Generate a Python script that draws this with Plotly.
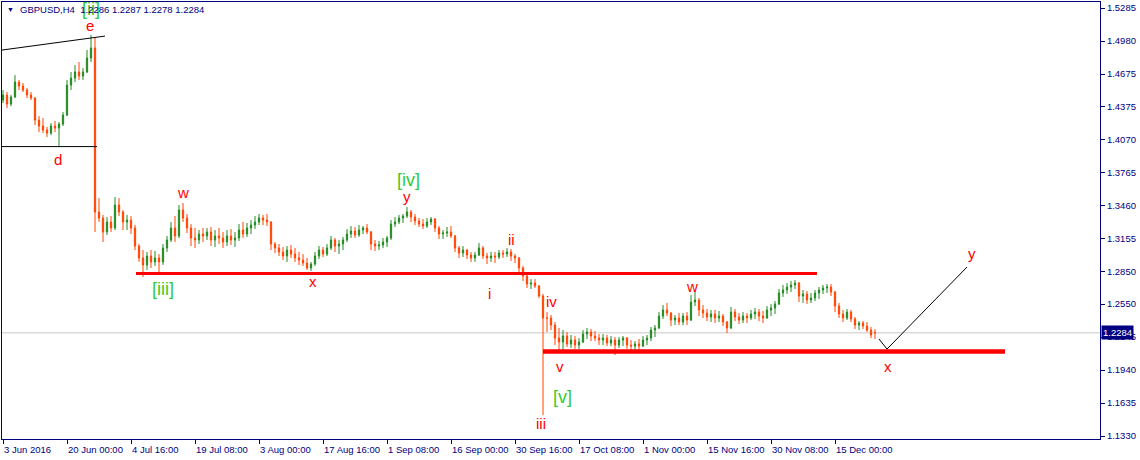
import plotly.graph_objects as go

# GBPUSD H4, one drawn candle = 4 H4 bars
opens = [
    1.4435, 1.4481, 1.4398, 1.4463, 1.4601, 1.4564, 1.4527, 1.4481, 1.4454, 1.4250, 1.4195, 1.4158,
    1.4130, 1.4195, 1.4176, 1.4213, 1.4296, 1.4573, 1.4638, 1.4694, 1.4657, 1.4694, 1.4823, 1.4916,
    1.3400, 1.3345, 1.3216, 1.3308, 1.3253, 1.3465, 1.3400, 1.3308, 1.3326, 1.3253, 1.3086, 1.2976,
    1.2911, 1.2994, 1.2939, 1.2976, 1.2939, 1.3068, 1.3142, 1.3253, 1.3179, 1.3419, 1.3345, 1.3253,
    1.3160, 1.3142, 1.3197, 1.3179, 1.3216, 1.3142, 1.3179, 1.3160, 1.3123, 1.3179, 1.3142, 1.3160,
    1.3234, 1.3197, 1.3253, 1.3280, 1.3308, 1.3345, 1.3326, 1.3308, 1.3105, 1.3068, 1.3031, 1.2994,
    1.3049,
    1.3012, 1.2976, 1.2957, 1.2929, 1.2883, 1.2920, 1.2994, 1.3049, 1.3012, 1.3068,
    1.3142, 1.3086, 1.3105, 1.3142, 1.3197, 1.3225, 1.3188, 1.3234, 1.3253, 1.3216,
    1.3105, 1.3086, 1.3096, 1.3123, 1.3160, 1.3289, 1.3308, 1.3345, 1.3363, 1.3400,
    1.3354, 1.3317, 1.3289, 1.3271, 1.3308, 1.3336, 1.3253, 1.3197, 1.3206, 1.3216,
    1.3179, 1.3068, 1.3022, 1.3049, 1.3003, 1.2976, 1.3003, 1.3068, 1.2994, 1.2976,
    1.2994, 1.2985, 1.3022, 1.3012, 1.3031, 1.2994, 1.2976, 1.2883, 1.2809, 1.2735,
    1.2744, 1.2717, 1.2624, 1.2421, 1.2421, 1.2356, 1.2236, 1.2199, 1.2255, 1.2181,
    1.2218, 1.2171, 1.2199, 1.2273, 1.2292, 1.2255, 1.2236, 1.2218, 1.2236, 1.2190,
    1.2218, 1.2171, 1.2218, 1.2236, 1.2171, 1.2162, 1.2181, 1.2162, 1.2218, 1.2236,
    1.2310, 1.2329, 1.2439, 1.2495, 1.2467, 1.2402, 1.2421, 1.2384, 1.2439, 1.2402,
    1.2569, 1.2587, 1.2495, 1.2467, 1.2430, 1.2458, 1.2421, 1.2439, 1.2384, 1.2329,
    1.2476, 1.2430, 1.2402, 1.2439, 1.2421, 1.2458, 1.2476, 1.2439, 1.2421, 1.2495,
    1.2513, 1.2550, 1.2652, 1.2680, 1.2707, 1.2726, 1.2744, 1.2624, 1.2643, 1.2587,
    1.2606, 1.2652, 1.2680, 1.2698, 1.2707, 1.2661, 1.2532, 1.2458, 1.2421, 1.2476,
    1.2412, 1.2356, 1.2375, 1.2347, 1.2310, 1.2286,
]
highs = [
    1.4527, 1.4509, 1.4481, 1.4666, 1.4620, 1.4592, 1.4546, 1.4509, 1.4463, 1.4287, 1.4269, 1.4186,
    1.4222, 1.4241, 1.4232, 1.4324, 1.4620, 1.4694, 1.4758, 1.4786, 1.4731, 1.4897, 1.5036, 1.5008,
    1.3529, 1.3373, 1.3354, 1.3363, 1.3539, 1.3529, 1.3419, 1.3373, 1.3363, 1.3280, 1.3105, 1.3049,
    1.3031, 1.3049, 1.3040, 1.3012, 1.3105, 1.3179, 1.3308, 1.3363, 1.3465, 1.3483, 1.3382, 1.3289,
    1.3253, 1.3234, 1.3253, 1.3253, 1.3262, 1.3234, 1.3253, 1.3216, 1.3234, 1.3243, 1.3216, 1.3289,
    1.3308, 1.3299, 1.3326, 1.3363, 1.3382, 1.3373, 1.3382, 1.3317, 1.3123, 1.3105, 1.3077, 1.3086,
    1.3096,
    1.3068, 1.3031, 1.3012, 1.2976, 1.2939, 1.3031, 1.3086, 1.3077, 1.3105, 1.3179,
    1.3160, 1.3142, 1.3170, 1.3243, 1.3271, 1.3262, 1.3280, 1.3271, 1.3289, 1.3225,
    1.3142, 1.3133, 1.3160, 1.3179, 1.3326, 1.3354, 1.3373, 1.3382, 1.3446, 1.3419,
    1.3382, 1.3345, 1.3336, 1.3345, 1.3354, 1.3345, 1.3271, 1.3234, 1.3262, 1.3271,
    1.3188, 1.3086, 1.3086, 1.3059, 1.3031, 1.3031, 1.3114, 1.3086, 1.3022, 1.3031,
    1.3031, 1.3049, 1.3049, 1.3068, 1.3059, 1.3012, 1.2985, 1.2902, 1.2818, 1.2781,
    1.2781, 1.2726, 1.2643, 1.2476, 1.2449, 1.2384, 1.2329, 1.2310, 1.2292, 1.2264,
    1.2255, 1.2236, 1.2310, 1.2329, 1.2319, 1.2301, 1.2273, 1.2273, 1.2264, 1.2255,
    1.2245, 1.2245, 1.2255, 1.2245, 1.2218, 1.2208, 1.2227, 1.2255, 1.2264, 1.2338,
    1.2356, 1.2476, 1.2541, 1.2560, 1.2476, 1.2449, 1.2467, 1.2467, 1.2476, 1.2633,
    1.2670, 1.2606, 1.2541, 1.2504, 1.2495, 1.2495, 1.2486, 1.2458, 1.2393, 1.2523,
    1.2504, 1.2467, 1.2476, 1.2467, 1.2495, 1.2513, 1.2504, 1.2486, 1.2532, 1.2550,
    1.2578, 1.2689, 1.2726, 1.2744, 1.2763, 1.2772, 1.2754, 1.2680, 1.2670, 1.2652,
    1.2680, 1.2707, 1.2726, 1.2735, 1.2735, 1.2670, 1.2560, 1.2495, 1.2504, 1.2495,
    1.2430, 1.2393, 1.2393, 1.2384, 1.2338, 1.2319,
]
lows = [
    1.4407, 1.4361, 1.4380, 1.4454, 1.4527, 1.4509, 1.4454, 1.4435, 1.4204, 1.4139, 1.4130, 1.4093,
    1.4111, 1.4139, 1.4010, 1.4195, 1.4287, 1.4527, 1.4601, 1.4620, 1.4620, 1.4685, 1.4786, 1.3216,
    1.3308, 1.3123, 1.3188, 1.3216, 1.3234, 1.3363, 1.3234, 1.3234, 1.3197, 1.3049, 1.2939, 1.2800,
    1.2865, 1.2883, 1.2902, 1.2846, 1.2911, 1.3031, 1.3123, 1.3123, 1.3160, 1.3308, 1.3206, 1.3086,
    1.3068, 1.3105, 1.3123, 1.3142, 1.3086, 1.3077, 1.3105, 1.3068, 1.3086, 1.3096, 1.3077, 1.3133,
    1.3160, 1.3170, 1.3197, 1.3243, 1.3280, 1.3280, 1.3271, 1.3049, 1.3022, 1.2994, 1.2957, 1.2939,
    1.2976,
    1.2939, 1.2911, 1.2902, 1.2865, 1.2855, 1.2902, 1.2966, 1.2985, 1.2994, 1.3049,
    1.3031, 1.3012, 1.3049, 1.3123, 1.3160, 1.3160, 1.3170, 1.3197, 1.3197, 1.3049,
    1.3040, 1.3049, 1.3068, 1.3077, 1.3142, 1.3262, 1.3289, 1.3299, 1.3345, 1.3308,
    1.3280, 1.3262, 1.3243, 1.3253, 1.3280, 1.3216, 1.3151, 1.3151, 1.3170, 1.3160,
    1.3031, 1.2976, 1.2985, 1.2966, 1.2939, 1.2939, 1.2994, 1.2966, 1.2920, 1.2939,
    1.2929, 1.2966, 1.2976, 1.2985, 1.2948, 1.2929, 1.2846, 1.2763, 1.2698, 1.2689,
    1.2698, 1.2606, 1.1524, 1.2292, 1.2310, 1.2171, 1.2098, 1.2125, 1.2153, 1.2144,
    1.2135, 1.2135, 1.2190, 1.2227, 1.2208, 1.2208, 1.2171, 1.2171, 1.2162, 1.2162,
    1.2079, 1.2144, 1.2162, 1.2135, 1.2116, 1.2116, 1.2107, 1.2153, 1.2171, 1.2208,
    1.2245, 1.2319, 1.2412, 1.2439, 1.2347, 1.2356, 1.2356, 1.2356, 1.2356, 1.2393,
    1.2532, 1.2439, 1.2421, 1.2393, 1.2384, 1.2375, 1.2384, 1.2347, 1.2282, 1.2319,
    1.2393, 1.2366, 1.2375, 1.2375, 1.2402, 1.2412, 1.2393, 1.2375, 1.2412, 1.2439,
    1.2458, 1.2541, 1.2615, 1.2643, 1.2661, 1.2689, 1.2569, 1.2560, 1.2550, 1.2560,
    1.2578, 1.2597, 1.2643, 1.2652, 1.2624, 1.2476, 1.2421, 1.2384, 1.2402, 1.2384,
    1.2319, 1.2310, 1.2319, 1.2292, 1.2236, 1.2227,
]
closes = [
    1.4481, 1.4398, 1.4463, 1.4601, 1.4564, 1.4527, 1.4481, 1.4454, 1.4250, 1.4195, 1.4158, 1.4130,
    1.4195, 1.4176, 1.4213, 1.4296, 1.4573, 1.4638, 1.4694, 1.4657, 1.4694, 1.4823, 1.4916, 1.3400,
    1.3345, 1.3216, 1.3308, 1.3253, 1.3465, 1.3400, 1.3308, 1.3326, 1.3253, 1.3086, 1.2976, 1.2911,
    1.2994, 1.2939, 1.2976, 1.2939, 1.3068, 1.3142, 1.3253, 1.3179, 1.3419, 1.3345, 1.3253, 1.3160,
    1.3142, 1.3197, 1.3179, 1.3216, 1.3142, 1.3179, 1.3160, 1.3123, 1.3179, 1.3142, 1.3160, 1.3234,
    1.3197, 1.3253, 1.3280, 1.3308, 1.3345, 1.3326, 1.3308, 1.3105, 1.3068, 1.3031, 1.2994, 1.3049,
    1.3012,
    1.2976, 1.2957, 1.2929, 1.2883, 1.2920, 1.2994, 1.3049, 1.3012, 1.3068, 1.3142,
    1.3086, 1.3105, 1.3142, 1.3197, 1.3225, 1.3188, 1.3234, 1.3253, 1.3216, 1.3105,
    1.3086, 1.3096, 1.3123, 1.3160, 1.3289, 1.3308, 1.3345, 1.3363, 1.3400, 1.3354,
    1.3317, 1.3289, 1.3271, 1.3308, 1.3336, 1.3253, 1.3197, 1.3206, 1.3216, 1.3179,
    1.3068, 1.3022, 1.3049, 1.3003, 1.2976, 1.3003, 1.3068, 1.2994, 1.2976, 1.2994,
    1.2985, 1.3022, 1.3012, 1.3031, 1.2994, 1.2976, 1.2883, 1.2809, 1.2735, 1.2744,
    1.2717, 1.2624, 1.2421, 1.2421, 1.2356, 1.2236, 1.2199, 1.2255, 1.2181, 1.2218,
    1.2171, 1.2199, 1.2273, 1.2292, 1.2255, 1.2236, 1.2218, 1.2236, 1.2190, 1.2218,
    1.2171, 1.2218, 1.2236, 1.2171, 1.2162, 1.2181, 1.2162, 1.2218, 1.2236, 1.2310,
    1.2329, 1.2439, 1.2495, 1.2467, 1.2402, 1.2421, 1.2384, 1.2439, 1.2402, 1.2569,
    1.2587, 1.2495, 1.2467, 1.2430, 1.2458, 1.2421, 1.2439, 1.2384, 1.2329, 1.2476,
    1.2430, 1.2402, 1.2439, 1.2421, 1.2458, 1.2476, 1.2439, 1.2421, 1.2495, 1.2513,
    1.2550, 1.2652, 1.2680, 1.2707, 1.2726, 1.2744, 1.2624, 1.2643, 1.2587, 1.2606,
    1.2652, 1.2680, 1.2698, 1.2707, 1.2661, 1.2532, 1.2458, 1.2421, 1.2476, 1.2412,
    1.2356, 1.2375, 1.2347, 1.2310, 1.2264, 1.2284,
]

date_labels = ["3 Jun 2016", "20 Jun 00:00", "4 Jul 16:00", "19 Jul 08:00", "3 Aug 00:00",
               "17 Aug 16:00", "1 Sep 08:00", "16 Sep 00:00", "30 Sep 16:00", "17 Oct 08:00",
               "1 Nov 00:00", "15 Nov 16:00", "30 Nov 08:00", "15 Dec 00:00"]
price_ticks = [1.5285, 1.4980, 1.4675, 1.4375, 1.4070, 1.3765, 1.3460, 1.3155,
               1.2850, 1.2550, 1.2245, 1.1940, 1.1635, 1.1330]
last_price = 1.2284

NAVY = "#000080"
GREEN_LBL = "#32CD32"
RED_LBL = "#FF0000"
FONT = "Liberation Sans, Arial, sans-serif"

step = 4  # H4 bars per candle
xs = [i * step for i in range(len(closes))]
tick_pos = [i * 64 for i in range(len(date_labels))]

fig = go.Figure()
fig.add_trace(go.Candlestick(
    x=xs, open=opens, high=highs, low=lows, close=closes,
    increasing=dict(line=dict(color="#228B22", width=1), fillcolor="#228B22"),
    decreasing=dict(line=dict(color="#FF4500", width=1), fillcolor="#FF4500"),
    whiskerwidth=0, hoverinfo="skip", showlegend=False,
))

# bid line
fig.add_shape(type="line", xref="paper", x0=0, x1=1, y0=last_price, y1=last_price,
              line=dict(color="#C8C8C8", width=1), layer="below")

# drawn objects
lines = [
    # (x0, y0, x1, y1, color, width)
    (-1, 1.4897, 102, 1.5026, "black", 1),
    (-1, 1.4005, 94, 1.4005, "black", 1),
    (133, 1.2832, 814, 1.2832, "#FF0000", 3),
    (540, 1.2111, 1002, 1.2111, "#FF0000", 4.5),
    (876, 1.2227, 884, 1.2134, "black", 1),
    (884, 1.2134, 964, 1.2892, "black", 1),
]
for x0, y0, x1, y1, c, w in lines:
    fig.add_shape(type="line", x0=x0, y0=y0, x1=x1, y1=y1, line=dict(color=c, width=w))

# wave labels
waves = [
    ("[ii]", 88, 1.5280, GREEN_LBL, 18),
    ("e", 87, 1.5128, RED_LBL, 15),
    ("d", 55, 1.3890, RED_LBL, 15),
    ("w", 180, 1.3585, RED_LBL, 15),
    ("[iii]", 160, 1.2689, GREEN_LBL, 18),
    ("x", 310, 1.2763, RED_LBL, 15),
    ("[iv]", 405, 1.3696, GREEN_LBL, 18),
    ("y", 404, 1.3548, RED_LBL, 15),
    ("ii", 508, 1.3151, RED_LBL, 15),
    ("i", 486, 1.2652, RED_LBL, 15),
    ("iv", 548, 1.2569, RED_LBL, 15),
    ("v", 557, 1.1977, RED_LBL, 15),
    ("[v]", 559, 1.1691, GREEN_LBL, 18),
    ("iii", 538, 1.1450, RED_LBL, 15),
    ("w", 689, 1.2716, RED_LBL, 15),
    ("x", 885, 1.1977, RED_LBL, 15),
    ("y", 969, 1.3021, RED_LBL, 15),
]
for txt, x, y, c, s in waves:
    fig.add_annotation(x=x, y=y, text=txt, showarrow=False,
                       font=dict(family=FONT, size=s, color=c))

# time labels, left aligned at their ticks like the terminal does
for pos, lab in zip(tick_pos, date_labels):
    fig.add_annotation(x=pos, y=0, yref="paper", text=lab, showarrow=False,
                       xanchor="left", yanchor="middle", yshift=-10, xshift=-1,
                       font=dict(family=FONT, size=9.5, color=NAVY))

# header
fig.add_annotation(x=0, y=1, xref="paper", yref="paper", text="▼", showarrow=False,
                   xanchor="left", yanchor="top", xshift=3, yshift=-2,
                   font=dict(family=FONT, size=7, color=NAVY))
fig.add_annotation(x=0, y=1, xref="paper", yref="paper",
                   text="GBPUSD,H4  1.2286 1.2287 1.2278 1.2284", showarrow=False,
                   xanchor="left", yanchor="top", xshift=16, yshift=0,
                   font=dict(family=FONT, size=9.5, color=NAVY))

# current price box
fig.add_annotation(x=1, xref="paper", y=last_price, text="1.2284", showarrow=False,
                   xanchor="left", xshift=1, bgcolor=NAVY, borderpad=1,
                   font=dict(family=FONT, size=9.5, color="white"))

fig.update_layout(
    width=1140, height=460,
    margin=dict(l=2, r=40, t=2, b=21),
    paper_bgcolor="white", plot_bgcolor="white",
    showlegend=False, boxgap=0.55,
    xaxis=dict(range=[-1, 1097], showgrid=False, zeroline=False,
               showline=True, mirror=True, linecolor=NAVY, linewidth=1,
               ticks="outside", ticklen=4, tickcolor=NAVY,
               tickvals=tick_pos, showticklabels=False,
               rangeslider=dict(visible=False)),
    yaxis=dict(range=[1.1303, 1.5341], side="right", showgrid=False, zeroline=False,
               showline=True, mirror=True, linecolor=NAVY, linewidth=1,
               ticks="outside", ticklen=4, tickcolor=NAVY,
               tickvals=price_ticks, ticktext=["%.4f" % v for v in price_ticks],
               tickfont=dict(family=FONT, size=9.5, color=NAVY)),
)

# page body has a default margin; drop it so the figure sits at the window corner
fig.write_html("out.html", config={"displayModeBar": False},
               post_script="document.body.style.margin='0';")
